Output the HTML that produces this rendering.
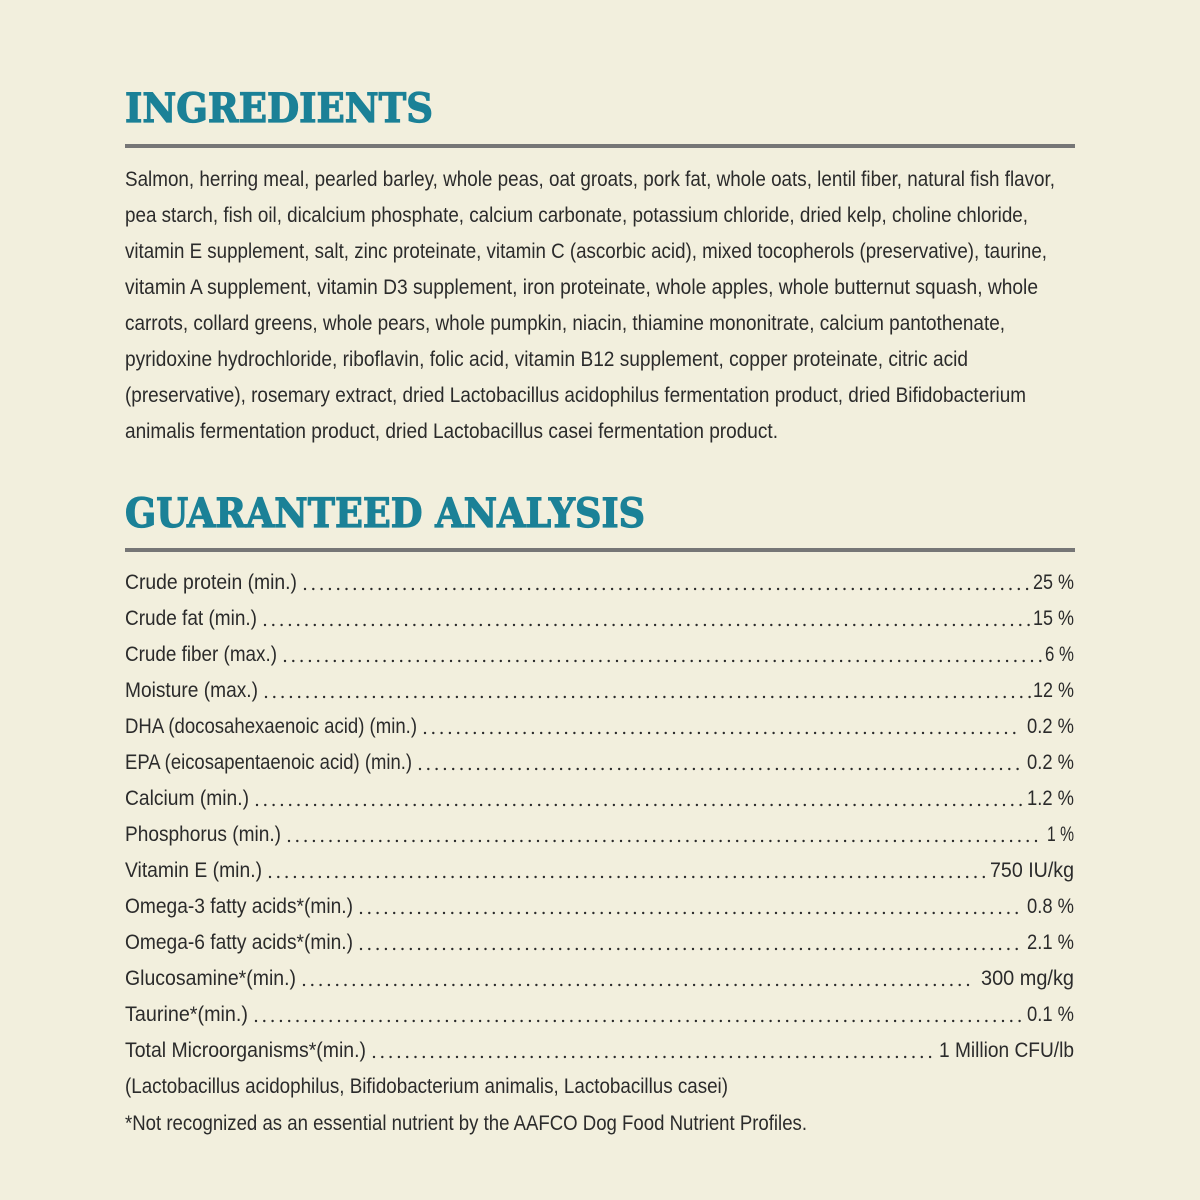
<!DOCTYPE html>
<html><head><meta charset="utf-8"><style>
html,body{margin:0;padding:0;background:#f2efdd;}
svg{display:block}
text{font-family:"Liberation Sans",sans-serif;fill:#2b2b2b;font-size:21px}
.h{font-family:"DejaVu Serif","Liberation Serif",serif;font-weight:bold;fill:#1b8197;stroke:#1b8197;stroke-width:1.2;font-size:40px}
</style></head><body>
<svg width="1200" height="1200" viewBox="0 0 1200 1200" xmlns="http://www.w3.org/2000/svg">
<rect width="1200" height="1200" fill="#f2efdd"/>
<text class="h" x="125" y="122" textLength="308" lengthAdjust="spacingAndGlyphs">INGREDIENTS</text>
<rect x="125" y="144" width="950" height="4" fill="#767676"/>
<text x="125" y="186" textLength="930" lengthAdjust="spacingAndGlyphs">Salmon, herring meal, pearled barley, whole peas, oat groats, pork fat, whole oats, lentil fiber, natural fish flavor,</text>
<text x="125" y="222" textLength="903" lengthAdjust="spacingAndGlyphs">pea starch, fish oil, dicalcium phosphate, calcium carbonate, potassium chloride, dried kelp, choline chloride,</text>
<text x="125" y="258" textLength="922" lengthAdjust="spacingAndGlyphs">vitamin E supplement, salt, zinc proteinate, vitamin C (ascorbic acid), mixed tocopherols (preservative), taurine,</text>
<text x="125" y="294" textLength="913" lengthAdjust="spacingAndGlyphs">vitamin A supplement, vitamin D3 supplement, iron proteinate, whole apples, whole butternut squash, whole</text>
<text x="125" y="330" textLength="880" lengthAdjust="spacingAndGlyphs">carrots, collard greens, whole pears, whole pumpkin, niacin, thiamine mononitrate, calcium pantothenate,</text>
<text x="125" y="366" textLength="843" lengthAdjust="spacingAndGlyphs">pyridoxine hydrochloride, riboflavin, folic acid, vitamin B12 supplement, copper proteinate, citric acid</text>
<text x="125" y="402" textLength="901" lengthAdjust="spacingAndGlyphs">(preservative), rosemary extract, dried Lactobacillus acidophilus fermentation product, dried Bifidobacterium</text>
<text x="125" y="438" textLength="653" lengthAdjust="spacingAndGlyphs">animalis fermentation product, dried Lactobacillus casei fermentation product.</text>
<text class="h" x="125" y="527" textLength="520" lengthAdjust="spacingAndGlyphs">GUARANTEED ANALYSIS</text>
<rect x="125" y="548" width="950" height="4" fill="#767676"/>
<g stroke="#2b2b2b" stroke-width="2.4" stroke-linecap="round" stroke-dasharray="0 8.3">
<line x1="305" y1="589" x2="1030" y2="589"/>
<line x1="265" y1="625" x2="1030" y2="625"/>
<line x1="285" y1="661" x2="1042" y2="661"/>
<line x1="266" y1="697" x2="1030" y2="697"/>
<line x1="425" y1="733" x2="1022" y2="733"/>
<line x1="420" y1="769" x2="1022" y2="769"/>
<line x1="257" y1="805" x2="1022" y2="805"/>
<line x1="289" y1="841" x2="1044" y2="841"/>
<line x1="270" y1="877" x2="984" y2="877"/>
<line x1="361" y1="913" x2="1022" y2="913"/>
<line x1="361" y1="949" x2="1022" y2="949"/>
<line x1="304" y1="985" x2="976" y2="985"/>
<line x1="256" y1="1021" x2="1022" y2="1021"/>
<line x1="374" y1="1057" x2="934" y2="1057"/>
</g>
<text x="125" y="589" textLength="172" lengthAdjust="spacingAndGlyphs">Crude protein (min.)</text>
<text x="125" y="625" textLength="132" lengthAdjust="spacingAndGlyphs">Crude fat (min.)</text>
<text x="125" y="661" textLength="152" lengthAdjust="spacingAndGlyphs">Crude fiber (max.)</text>
<text x="125" y="697" textLength="133" lengthAdjust="spacingAndGlyphs">Moisture (max.)</text>
<text x="125" y="733" textLength="292" lengthAdjust="spacingAndGlyphs">DHA (docosahexaenoic acid) (min.)</text>
<text x="125" y="769" textLength="287" lengthAdjust="spacingAndGlyphs">EPA (eicosapentaenoic acid) (min.)</text>
<text x="125" y="805" textLength="124" lengthAdjust="spacingAndGlyphs">Calcium (min.)</text>
<text x="125" y="841" textLength="156" lengthAdjust="spacingAndGlyphs">Phosphorus (min.)</text>
<text x="125" y="877" textLength="137" lengthAdjust="spacingAndGlyphs">Vitamin E (min.)</text>
<text x="125" y="913" textLength="228" lengthAdjust="spacingAndGlyphs">Omega-3 fatty acids*(min.)</text>
<text x="125" y="949" textLength="228" lengthAdjust="spacingAndGlyphs">Omega-6 fatty acids*(min.)</text>
<text x="125" y="985" textLength="171" lengthAdjust="spacingAndGlyphs">Glucosamine*(min.)</text>
<text x="125" y="1021" textLength="123" lengthAdjust="spacingAndGlyphs">Taurine*(min.)</text>
<text x="125" y="1057" textLength="241" lengthAdjust="spacingAndGlyphs">Total Microorganisms*(min.)</text>
<text x="1033" y="589" textLength="41" lengthAdjust="spacingAndGlyphs">25 %</text>
<text x="1033" y="625" textLength="41" lengthAdjust="spacingAndGlyphs">15 %</text>
<text x="1045" y="661" textLength="29" lengthAdjust="spacingAndGlyphs">6 %</text>
<text x="1033" y="697" textLength="41" lengthAdjust="spacingAndGlyphs">12 %</text>
<text x="1027" y="733" textLength="47" lengthAdjust="spacingAndGlyphs">0.2 %</text>
<text x="1027" y="769" textLength="47" lengthAdjust="spacingAndGlyphs">0.2 %</text>
<text x="1027" y="805" textLength="47" lengthAdjust="spacingAndGlyphs">1.2 %</text>
<text x="1047" y="841" textLength="27" lengthAdjust="spacingAndGlyphs">1 %</text>
<text x="990" y="877" textLength="84" lengthAdjust="spacingAndGlyphs">750 IU/kg</text>
<text x="1027" y="913" textLength="47" lengthAdjust="spacingAndGlyphs">0.8 %</text>
<text x="1027" y="949" textLength="47" lengthAdjust="spacingAndGlyphs">2.1 %</text>
<text x="981" y="985" textLength="93" lengthAdjust="spacingAndGlyphs">300 mg/kg</text>
<text x="1027" y="1021" textLength="47" lengthAdjust="spacingAndGlyphs">0.1 %</text>
<text x="939" y="1057" textLength="135" lengthAdjust="spacingAndGlyphs">1 Million CFU/lb</text>
<text x="125" y="1093" textLength="603" lengthAdjust="spacingAndGlyphs">(Lactobacillus acidophilus, Bifidobacterium animalis, Lactobacillus casei)</text>
<text x="125" y="1130" textLength="682" lengthAdjust="spacingAndGlyphs">*Not recognized as an essential nutrient by the AAFCO Dog Food Nutrient Profiles.</text>
</svg>
</body></html>
